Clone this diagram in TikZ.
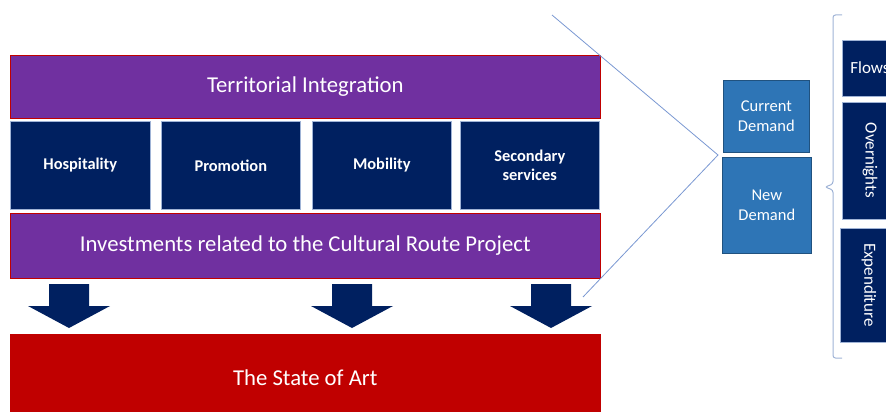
\documentclass[tikz,border=0pt]{standalone}
\usepackage{fontspec}
\setmainfont{Carlito}
\definecolor{cPurple}{HTML}{7030A0}
\definecolor{cNavy}{HTML}{002060}
\definecolor{cRed}{HTML}{C00000}
\definecolor{cBlue}{HTML}{2E75B6}
\definecolor{cEdge}{HTML}{9FB3D6}
\definecolor{cLine}{HTML}{7A98D2}
\begin{document}
\begin{tikzpicture}[x=1pt, y=-1pt,
		band/.style={fill=cPurple, draw=cRed, line width=0.6pt, text=white, inner sep=0,
			minimum width=590, font=\fontsize{22.7}{26}\selectfont},
		tile/.style={fill=cNavy, draw=cEdge, line width=0.6pt, text=white, inner sep=0, align=center},
		demand/.style={fill=cBlue, draw=cBlue!70!black, line width=0.6pt, text=white, inner sep=0,
			align=center, font=\fontsize{16.5}{20}\selectfont}]
		\useasboundingbox (0,0) rectangle (886,412);
		
		\node[band, anchor=north west, minimum height=63] (terr) at (10,55) {Territorial Integration};
		\node[tile, anchor=north west, minimum width=140, minimum height=88, font=\bfseries\fontsize{16.4}{19}\selectfont] (hosp) at (10,121) {Hospitality};
		\node[tile, anchor=north west, minimum width=139, minimum height=88, font=\bfseries\fontsize{16.4}{19}\selectfont] (prom) at (161,121) {Promotion};
		\node[tile, anchor=north west, minimum width=139, minimum height=88, font=\bfseries\fontsize{16.4}{19}\selectfont] (mob) at (312,121) {Mobility};
		\node[tile, anchor=north west, minimum width=139, minimum height=88, font=\bfseries\fontsize{16.4}{19}\selectfont] (sec) at (460,121) {Secondary\\services};
		\node[band, anchor=north west, minimum height=65] (inv) at (10,213) {Investments related to the Cultural Route Project};
		\node[band, anchor=north west, minimum height=86, fill=cRed] (art) at (10,334) {The State of Art};
		
		\foreach \x in {69,352,551}
			\fill[cNavy] (\x-20,284) -- (\x+20,284) -- (\x+20,306) -- (\x+41,306) -- (\x,328)
				-- (\x-41,306) -- (\x-20,306) -- cycle;
		
		\node[demand, anchor=north west, minimum width=86, minimum height=72] (cur) at (723,80) {Current\\Demand};
		\node[demand, anchor=north west, minimum width=89, minimum height=96] (new) at (722,157) {New\\Demand};
		
		\coordinate (ltop) at (552,15);
		\coordinate (apex) at (718,155);
		\coordinate (lbot) at (583,297);
		\draw[cLine, line width=0.8pt] (ltop) -- (apex) -- (lbot);
		
		\draw[cEdge, line width=1pt, rounded corners=2.5] (842,15) -- (833,15) -- (833,184) -- (825,187)
			-- (833,190) -- (833,358) -- (842,358);
		
		\node[tile, minimum width=56, minimum height=56, font=\fontsize{17}{20}\selectfont] (flows) at (870,68) {Flows};
		\node[tile, rotate=-90, minimum width=117, minimum height=56, font=\fontsize{17}{20}\selectfont] (overn) at (870,160.5) {Overnights};
		\node[tile, rotate=-90, minimum width=114, minimum height=58, font=\fontsize{17}{20}\selectfont] (expe) at (869,285) {Expenditure};
	\end{tikzpicture}
\end{document}
